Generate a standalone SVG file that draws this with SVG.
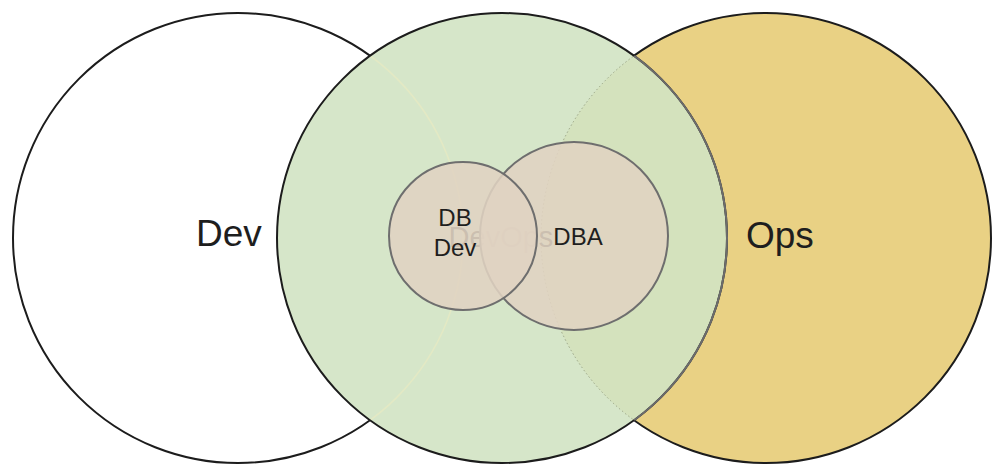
<svg xmlns="http://www.w3.org/2000/svg" width="1004" height="476" viewBox="0 0 1004 476">
  <style>
    .big { stroke: #1c1c1c; stroke-width: 2; fill: none; }
    .lbl { font-family: "Liberation Sans", Arial, sans-serif; fill: #1e1e1e; }
    .big-lbl { font-size: 37px; }
    .small-lbl { font-size: 24px; text-anchor: middle; }
    .inner { fill: #e0d3c1; fill-opacity: 0.88; stroke: #6e6e6e; stroke-width: 2; }
  </style>
  <defs>
    <clipPath id="outGreen">
      <path clip-rule="evenodd" d="M0 0H1004V476H0Z M277 238a225 225 0 1 0 450 0a225 225 0 1 0 -450 0Z"/>
    </clipPath>
    <clipPath id="inGreen">
      <circle cx="502" cy="238" r="225"/>
    </clipPath>
    <clipPath id="inOps">
      <circle cx="766" cy="238" r="225"/>
    </clipPath>
  </defs>
  <rect width="1004" height="476" fill="#ffffff"/>

  <g id="dev">
    <circle cx="238" cy="238" r="225" fill="#ffffff"/>
    <circle class="big" cx="238" cy="238" r="225" clip-path="url(#outGreen)"/>
    <text class="lbl big-lbl" x="196" y="246">Dev</text>
  </g>

  <g id="ops">
    <circle cx="766" cy="238" r="225" fill="#e9d184"/>
    <circle class="big" cx="766" cy="238" r="225" clip-path="url(#outGreen)"/>
    <text class="lbl big-lbl" x="746" y="248">Ops</text>
  </g>

  <g id="devops">
    <circle cx="502" cy="238" r="225" fill="#d1e3c3" fill-opacity="0.9"/>
    <circle cx="238" cy="238" r="225" fill="none" stroke="#e3e9c4" stroke-width="1.6" clip-path="url(#inGreen)"/>
    <circle cx="766" cy="238" r="225" fill="none" stroke="#9aa486" stroke-width="1" stroke-dasharray="1.5 2.5" clip-path="url(#inGreen)"/>
    <circle class="big" cx="502" cy="238" r="225"/>
    <circle cx="502" cy="238" r="225" fill="none" stroke="#6c6c6c" stroke-width="2" clip-path="url(#inOps)"/>
    <text x="501" y="247" font-family="Liberation Sans, Arial, sans-serif" font-size="29" text-anchor="middle" fill="#303030">DevOps</text>
  </g>

  <g id="dba">
    <circle class="inner" cx="574" cy="236" r="94"/>
    <text class="lbl small-lbl" x="578" y="245">DBA</text>
  </g>

  <g id="dbdev">
    <circle class="inner" cx="463" cy="236" r="74"/>
    <text class="lbl small-lbl" x="455" y="226">DB</text>
    <text class="lbl small-lbl" x="455" y="256">Dev</text>
  </g>

  <g id="connectors"></g>
</svg>
